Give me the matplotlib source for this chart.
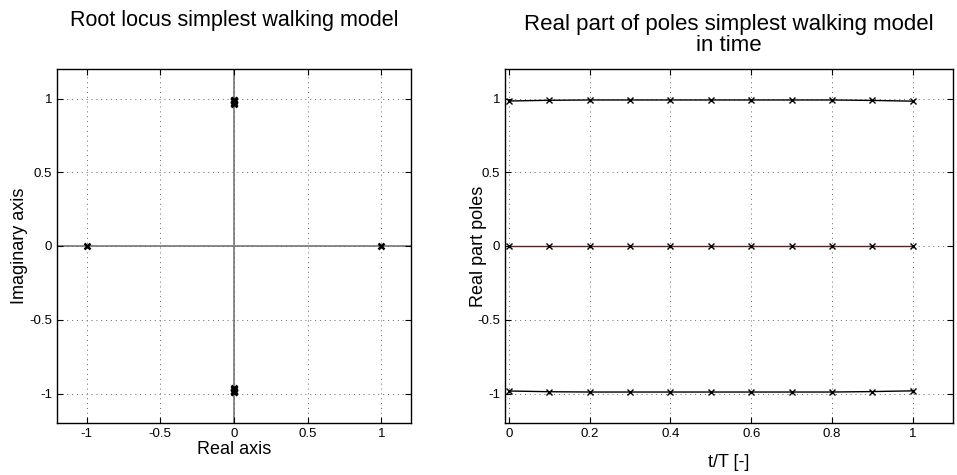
import numpy as np
import matplotlib
matplotlib.use("Agg")
import matplotlib.pyplot as plt

plt.rcParams['font.family'] = ['Liberation Sans', 'DejaVu Sans']

# Left: root locus poles
pole_re = [-1.0, 1.0, 0, 0, 0, 0, 0, 0, 0, 0, 0, 0, 0, 0]
pole_im = [0.0, 0.0, 0.96, 0.97, 0.98, 0.985, 0.99, 0.99, -0.96, -0.97, -0.98, -0.985, -0.99, -0.99]

# Right: real part of poles in time
t = [0, 0.1, 0.2, 0.3, 0.4, 0.5, 0.6, 0.7, 0.8, 0.9, 1.0]
re_top = [0.983, 0.988, 0.99, 0.99, 0.99, 0.99, 0.99, 0.99, 0.99, 0.987, 0.982]
re_mid = [0, 0, 0, 0, 0, 0, 0, 0, 0, 0, 0]
re_bot = [-0.983, -0.988, -0.99, -0.99, -0.99, -0.99, -0.99, -0.99, -0.99, -0.987, -0.982]

fig = plt.figure(figsize=(9.57, 4.75), dpi=100)
ax1 = fig.add_axes([57/957, 1-423/475, (411-57)/957, (423-69)/475])
ax2 = fig.add_axes([505/957, 1-423/475, (953-505)/957, (423-69)/475])

def style(ax):
    ax.grid(True, linestyle=(0, (1, 4)), color='#666666', linewidth=0.7)
    ax.tick_params(direction='in', top=True, right=True, length=4, width=0.8, labelsize=9.5, colors='black')
    for s in ax.spines.values():
        s.set_linewidth(1.0)
        s.set_color('black')

# Left plot
ax1.axhline(0, color='#808080', linewidth=1.3, zorder=1)
ax1.axvline(0, color='#808080', linewidth=1.3, zorder=1)
ax1.plot(pole_re, pole_im, linestyle='none', marker='x', color='black', markersize=5, markeredgewidth=1.8, zorder=3)
ax1.set_xlim(-1.2, 1.2)
ax1.set_ylim(-1.2, 1.2)
ax1.set_xticks([-1, -0.5, 0, 0.5, 1])
ax1.set_xticklabels(['-1', '-0.5', '0', '0.5', '1'])
ax1.set_yticks([-1, -0.5, 0, 0.5, 1])
ax1.set_yticklabels(['-1', '-0.5', '0', '0.5', '1'])
style(ax1)
ax1.set_xlabel('Real axis', fontsize=13, labelpad=1)
ax1.set_ylabel('Imaginary axis', fontsize=13, labelpad=1)
ax1.set_title('Root locus simplest walking model', fontsize=15.5, pad=31)

# Right plot
ax2.plot(t, re_top, color='black', linewidth=1.0, marker='x', markersize=5, markeredgewidth=1.0)
ax2.plot(t, re_mid, color='#5a2020', linewidth=1.0, marker='x', markersize=5, markeredgewidth=1.0, markeredgecolor='black')
ax2.plot(t, re_bot, color='black', linewidth=1.0, marker='x', markersize=5, markeredgewidth=1.0)
ax2.set_xlim(-0.01, 1.1)
ax2.set_ylim(-1.2, 1.2)
ax2.set_xticks([0, 0.2, 0.4, 0.6, 0.8, 1])
ax2.set_xticklabels(['0', '0.2', '0.4', '0.6', '0.8', '1'])
ax2.set_yticks([-1, -0.5, 0, 0.5, 1])
ax2.set_yticklabels(['-1', '-0.5', '0', '0.5', '1'])
style(ax2)
ax2.set_xlabel('t/T [-]', fontsize=13, labelpad=10)
ax2.set_ylabel('Real part poles', fontsize=13, labelpad=-7)
ax2.set_title('Real part of poles simplest walking model\nin time', fontsize=16, pad=13, linespacing=1.0)

fig.savefig('out.png', dpi=100)
